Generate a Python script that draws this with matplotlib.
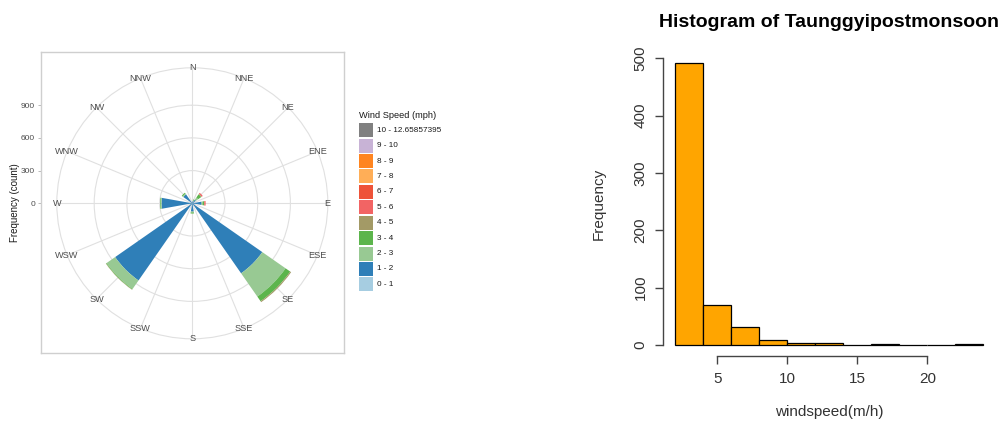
import matplotlib
matplotlib.use('Agg')
import matplotlib.pyplot as plt
from matplotlib.patches import Rectangle
import numpy as np

plt.rcParams['font.family'] = ['Liberation Sans', 'DejaVu Sans']

# ---- wind rose data: counts per direction for each speed bin (mph) ----
directions = ['N', 'NNE', 'NE', 'ENE', 'E', 'ESE', 'SE', 'SSE',
              'S', 'SSW', 'SW', 'WSW', 'W', 'WNW', 'NW', 'NNW']
speed_bins = ['0 - 1', '1 - 2', '2 - 3', '3 - 4', '4 - 5', '5 - 6',
              '6 - 7', '7 - 8', '8 - 9', '9 - 10', '10 - 12.65857395']
bin_colors = ['#a6cde1', '#2f7fb8', '#98c993', '#5cb54c', '#a39a66', '#f26464',
              '#ee5339', '#ffae57', '#ff8520', '#c8b3d6', '#808080']

spd_0_1 = [0, 0, 0, 0, 0, 0, 0, 0, 0, 0, 0, 0, 0, 0, 0, 0]
spd_1_2 = [15, 20, 40, 15, 85, 20, 783, 20, 76, 15, 863, 20, 282, 15, 100, 12]
spd_2_3 = [0, 8, 25, 0, 10, 0, 260, 0, 8, 0, 95, 0, 8, 0, 8, 0]
spd_3_4 = [0, 8, 35, 0, 15, 0, 52, 0, 10, 0, 6, 0, 6, 0, 10, 0]
spd_4_5 = [0, 0, 5, 0, 0, 0, 10, 0, 0, 0, 3, 0, 0, 0, 0, 0]
spd_5_6 = [0, 0, 12, 0, 10, 0, 0, 0, 0, 0, 0, 0, 0, 0, 0, 0]
spd_6_7 = [0, 0, 0, 0, 3, 0, 0, 0, 0, 0, 0, 0, 0, 0, 0, 0]
spd_7_8 = [0] * 16
spd_8_9 = [0] * 16
spd_9_10 = [0] * 16
spd_10_up = [0] * 16
rose_counts = [spd_0_1, spd_1_2, spd_2_3, spd_3_4, spd_4_5, spd_5_6,
               spd_6_7, spd_7_8, spd_8_9, spd_9_10, spd_10_up]
freq_ticks = [0, 300, 600, 900]

# ---- histogram data ----
hist_edges = [2, 4, 6, 8, 10, 12, 14, 16, 18, 20, 22, 24]
hist_counts = [491, 70, 32, 9, 3, 3, 0, 1, 0, 0, 1]

W, H = 1000, 424
fig = plt.figure(figsize=(W / 100, H / 100), dpi=100)


def rect(x0, y0, x1, y1):
    """pixel box (top-left origin) -> figure fraction rect"""
    return [x0 / W, 1 - y1 / H, (x1 - x0) / W, (y1 - y0) / H]


# ---------------- wind rose ----------------
cx, cy = 192.3, 203.3          # rose centre, px
r_px = 135.5                   # outer ring radius, px
r_outer = 1.125 * np.max(np.sum(rose_counts, axis=0))
scale = r_px / r_outer         # px per count

# frame with the radial count axis
ax_box = fig.add_axes(rect(40.7, 51.7, 344, 353))
ax_box.set_ylim(-(353 - cy) / scale, (cy - 51.7) / scale)
ax_box.set_xlim(0, 1)
ax_box.set_xticks([])
ax_box.set_yticks(freq_ticks)
ax_box.tick_params(axis='y', length=2.5, width=0.6, color='#b0b0b0',
                   labelsize=6, labelcolor='#4d4d4d', pad=1.5)
for s in ax_box.spines.values():
    s.set_color('#cfcfcf')
    s.set_linewidth(1.0)
ax_box.set_ylabel('Frequency (count)', fontsize=7, color='#1a1a1a', labelpad=1)

ax = fig.add_axes(rect(cx - r_px, cy - r_px, cx + r_px, cy + r_px), projection='polar')
ax.set_facecolor('none')
ax.set_theta_zero_location('N')
ax.set_theta_direction(-1)
ax.set_ylim(0, r_outer)
ax.set_yticks(freq_ticks[1:])
ax.set_yticklabels([])
theta = np.deg2rad(np.arange(len(directions)) * 22.5)
ax.set_xticks(theta)
ax.set_xticklabels([])
ax.grid(True, color='#e0e0e0', linewidth=0.8)
ax.spines['polar'].set_color('#e0e0e0')
ax.spines['polar'].set_linewidth(0.8)

bottom = np.zeros(len(directions))
width = np.deg2rad(22.5 * 0.9)
for counts, col in zip(rose_counts, bin_colors):
    counts = np.array(counts, dtype=float)
    ax.bar(theta, counts, width=width, bottom=bottom, color=col,
           edgecolor='none', linewidth=0, zorder=3)
    bottom += counts

for t, lab in zip(theta, directions):
    ax.text(t, r_outer, lab, ha='center', va='center', fontsize=6.6,
            color='#4d4d4d', clip_on=False, zorder=4)

# legend
fig.text(359.3 / W, 1 - 116 / H, 'Wind Speed (mph)', fontsize=6.7,
         color='#1a1a1a', ha='left', va='center')
key_top, key_step, key_h = 123.3, 15.4, 14.0
for i, (lab, col) in enumerate(zip(speed_bins[::-1], bin_colors[::-1])):
    y0 = key_top + i * key_step
    fig.add_artist(Rectangle((359.3 / W, 1 - (y0 + key_h) / H), 14 / W, key_h / H,
                             transform=fig.transFigure, facecolor=col,
                             edgecolor='none'))
    fig.text(376.7 / W, 1 - (y0 + key_h / 2) / H, lab, fontsize=5.9,
             color='#1a1a1a', ha='left', va='center')

# ---------------- histogram ----------------
ax_h = fig.add_axes(rect(663, 52.2, 995.6, 356.3))
edges = np.array(hist_edges, dtype=float)
ax_h.bar(edges[:-1], hist_counts, width=np.diff(edges), align='edge',
         color='#FFA500', edgecolor='black', linewidth=0.9)
span = edges[-1] - edges[0]
ax_h.set_xlim(edges[0] - 0.04 * span, edges[-1] + 0.04 * span)
ax_h.set_ylim(-0.04 * max(hist_counts), 1.04 * max(hist_counts))
ax_h.spines['top'].set_visible(False)
ax_h.spines['right'].set_visible(False)
ax_h.spines['left'].set_bounds(0, 500)
ax_h.spines['bottom'].set_bounds(5, 20)
for s in ('left', 'bottom'):
    ax_h.spines[s].set_color('#444444')
    ax_h.spines[s].set_linewidth(1.0)
ax_h.set_yticks([0, 100, 200, 300, 400, 500])
ax_h.set_xticks([5, 10, 15, 20])
ax_h.tick_params(length=6, width=1.0, color='#444444', labelsize=11,
                 labelcolor='#333333', pad=5)
for lab in ax_h.get_yticklabels():
    lab.set_rotation(90)
    lab.set_va('center')
ax_h.set_xlabel('windspeed(m/h)', fontsize=11, color='#333333', labelpad=14)
ax_h.set_ylabel('Frequency', fontsize=11, color='#333333', labelpad=20)
ax_h.set_title('Histogram of Taunggyipostmonsoon', fontsize=14,
               fontweight='bold', pad=18)

fig.savefig('out.png', dpi=100, facecolor='white')
